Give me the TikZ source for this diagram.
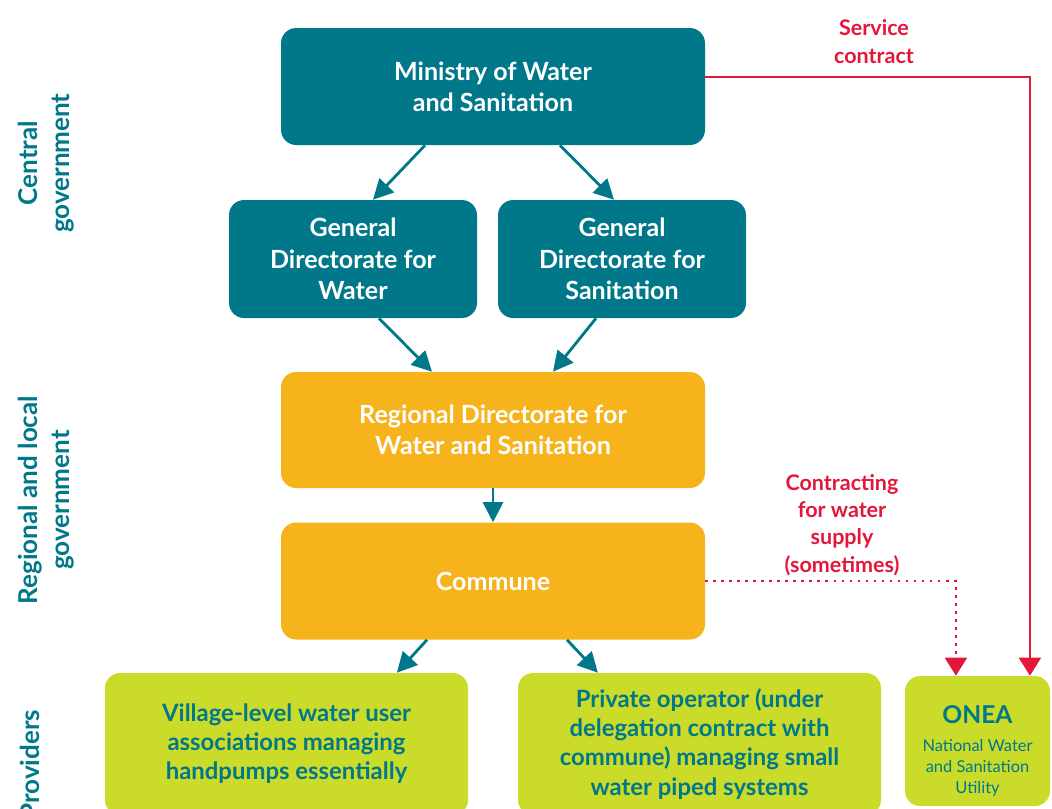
\documentclass[tikz,border=0pt]{standalone}
\usepackage{fontspec}
\setmainfont{Lato}
\usetikzlibrary{arrows.meta}
\definecolor{wsteal}{HTML}{00788A}
\definecolor{wsorange}{HTML}{F6B31B}
\definecolor{wslime}{HTML}{CADB2A}
\definecolor{wsred}{HTML}{E3173A}

\begin{document}
\begin{tikzpicture}[
  tealbox/.style={fill=wsteal,text=white,rounded corners=0.38cm,align=center,inner sep=0pt,font=\bfseries\fontsize{17.8}{22.2}\selectfont},
  orangebox/.style={tealbox,fill=wsorange},
  limebox/.style={fill=wslime,text=wsteal,rounded corners=0.38cm,align=center,inner sep=0pt,font=\bfseries\fontsize{17}{20.7}\selectfont},
  onealbl/.style={text=wsteal,align=center,inner sep=0pt,font=\mdseries\fontsize{11.7}{14.9}\selectfont},
  sidelbl/.style={text=wsteal,align=center,rotate=90,font=\bfseries\fontsize{18.5}{22.8}\selectfont},
  redlbl/.style={text=wsred,align=center,font=\bfseries\fontsize{15.3}{19.4}\selectfont},
  arrow/.style={-{Triangle[length=0.5cm,width=0.5cm]},line width=2pt,draw=wsteal},
  redarrow/.style={-{Triangle[length=0.45cm,width=0.55cm]},line width=1.4pt,draw=wsred},
  dotarrow/.style={redarrow,dash pattern=on 2pt off 3.7pt}
]
\useasboundingbox (0,0) rectangle (26.3,-20.2);

% side labels
\node[sidelbl] (cg) at (1.15,-4.08) {Central\\government};
\node[sidelbl] (rg) at (1.15,-12.5) {Regional and local\\government};
\node[sidelbl] (pv) at (0.75,-19.12) {Providers};

% central government
\node[tealbox,minimum width=10.6cm,minimum height=2.925cm] (min) at (12.325,-2.1625) {Ministry of Water\\and Sanitation};
\node[tealbox,minimum width=6.2cm,minimum height=2.95cm] (gdw) at (8.825,-6.475) {General\\Directorate for\\Water};
\node[tealbox,minimum width=6.2cm,minimum height=2.95cm] (gds) at (15.55,-6.475) {General\\Directorate for\\Sanitation};

% regional and local
\node[orangebox,minimum width=10.6cm,minimum height=2.9cm] (reg) at (12.325,-10.75) {Regional Directorate for\\Water and Sanitation};
\node[orangebox,minimum width=10.6cm,minimum height=2.925cm] (com) at (12.325,-14.525) {Commune};

% providers
\node[limebox,minimum width=9.075cm,minimum height=3.55cm] (vil) at (7.1625,-18.6) {Village-level water user\\associations managing\\handpumps essentially};
\node[limebox,minimum width=9.075cm,minimum height=3.55cm] (pri) at (17.4875,-18.6) {Private operator (under\\delegation contract with\\commune) managing small\\water piped systems};
\node[limebox,minimum width=3.625cm,minimum height=3.25cm] (onea) at (24.4375,-18.525) {};
\node[onealbl] (oneatxt) at ([yshift=-0.24cm]onea.center) {{\bfseries\fontsize{17.5}{17.5}\selectfont ONEA}\\[5pt]National Water\\and Sanitation\\Utility};

\draw[arrow] ([xshift=-1.7cm]min.south) -- ([xshift=0.5cm]gdw.north);
\draw[arrow] ([xshift=1.675cm]min.south) -- ([xshift=-0.2cm]gds.north);
\draw[arrow] ([xshift=0.65cm]gdw.south) -- ([xshift=-1.525cm]reg.north);
\draw[arrow] ([xshift=-0.65cm]gds.south) -- ([xshift=1.5cm]reg.north);
\draw[arrow] (reg) -- (com);
\draw[arrow] ([xshift=-1.65cm]com.south) -- ([xshift=2.76cm]vil.north);
\draw[arrow] ([xshift=1.85cm]com.south) -- ([xshift=-2.54cm]pri.north);

% contracts
\draw[redarrow] ([yshift=0.24cm]min.east) -| ([xshift=1.31cm]onea.north);
\node[redlbl] (svc) at (21.85,-1.04) {Service\\contract};
\draw[dotarrow] (com.east) -| ([xshift=-0.54cm]onea.north);
\node[redlbl] (cws) at (21.05,-13.12) {Contracting\\for water\\supply\\(sometimes)};
\end{tikzpicture}
\end{document}
